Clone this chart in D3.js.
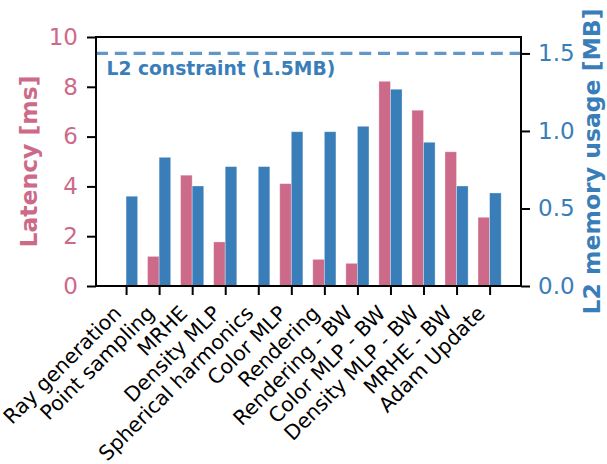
<!DOCTYPE html>
<html>
<head>
<meta charset="utf-8">
<script src="https://cdn.jsdelivr.net/npm/d3@7"></script>
<style>
  body { margin: 0; background: #fff; }
  svg text { font-family: "DejaVu Sans", sans-serif; }
</style>
</head>
<body>
<div id="chart"></div>
<script>
// categories
var categories = ["Ray generation", "Point sampling", "MRHE", "Density MLP",
  "Spherical harmonics", "Color MLP", "Rendering", "Rendering - BW",
  "Color MLP - BW", "Density MLP - BW", "MRHE - BW", "Adam Update"];

// latency in ms (left axis)
var latency = [0.03, 1.19, 4.45, 1.77, 0.02, 4.11, 1.07, 0.91, 8.22, 7.06, 5.39, 2.76];

// L2 memory usage in MB (right axis)
var memory = [0.579, 0.83, 0.645, 0.77, 0.77, 0.995, 0.995, 1.03, 1.269, 0.927, 0.645, 0.60];

// tick labels
var latencyTicks = [0, 2, 4, 6, 8, 10];
var memoryTicks = [0, 0.5, 1.0, 1.5];
var l2Limit = 1.5;

var width = 607;
var height = 464;

var pink = "#cd6a89";
var blue = "#3a7eb9";

// plot box
var boxLeft = 96, boxRight = 521, boxTop = 37, boxBottom = 286;

var svg = d3.select("#chart")
  .append("svg")
  .attr("width", width)
  .attr("height", height);

var x_Scale = d3.scaleLinear().domain([-0.91, 11.95]).range([boxLeft, boxRight]);
var yLeft = d3.scaleLinear().domain([0, 10]).range([boxBottom, boxTop]);
var yRight = d3.scaleLinear().domain([0, 1.606]).range([boxBottom, boxTop]);

var barW = x_Scale(0.35) - x_Scale(0);

// latency bars
svg.selectAll("rect.lat")
  .data(latency)
  .enter()
  .append("rect")
  .attr("class", "lat")
  .attr("x", function(d, i) { return x_Scale(i) - barW; })
  .attr("y", function(d) { return yLeft(d); })
  .attr("width", barW)
  .attr("height", function(d) { return boxBottom - yLeft(d); })
  .attr("fill", pink)
  .attr("stroke", "#fff")
  .attr("stroke-opacity", 0.4)
  .attr("stroke-width", 0.8);

// memory bars
svg.selectAll("rect.mem")
  .data(memory)
  .enter()
  .append("rect")
  .attr("class", "mem")
  .attr("x", function(d, i) { return x_Scale(i); })
  .attr("y", function(d) { return yRight(d); })
  .attr("width", barW)
  .attr("height", function(d) { return boxBottom - yRight(d); })
  .attr("fill", blue)
  .attr("stroke", "#fff")
  .attr("stroke-opacity", 0.4)
  .attr("stroke-width", 0.8);

// L2 constraint line
svg.append("line")
  .attr("x1", boxLeft)
  .attr("x2", boxRight)
  .attr("y1", yRight(l2Limit))
  .attr("y2", yRight(l2Limit))
  .attr("stroke", blue)
  .attr("stroke-opacity", 0.8)
  .attr("stroke-width", 3.3)
  .attr("stroke-dasharray", "12,6.8");

svg.append("text")
  .attr("x", 106.5)
  .attr("y", 75)
  .attr("fill", blue)
  .attr("font-size", 18.7)
  .attr("font-weight", "bold")
  .text("L2 constraint (" + l2Limit + "MB)");

// frame
svg.append("rect")
  .attr("x", boxLeft)
  .attr("y", boxTop)
  .attr("width", boxRight - boxLeft)
  .attr("height", boxBottom - boxTop)
  .attr("fill", "none")
  .attr("stroke", "#000")
  .attr("stroke-width", 2);

// x axis
var x_Axis = d3.axisBottom(x_Scale)
  .tickValues(d3.range(categories.length))
  .tickSize(9)
  .tickFormat("");
var gx = svg.append("g")
  .attr("transform", "translate(0," + boxBottom + ")")
  .call(x_Axis);
gx.select(".domain").remove();
gx.selectAll(".tick line").attr("stroke", "#000").attr("stroke-width", 2);

svg.append("g")
  .selectAll("text")
  .data(categories)
  .enter()
  .append("text")
  .attr("transform", function(d, i) {
    return "translate(" + (x_Scale(i) - 3.5) + ",314.5) rotate(-45)";
  })
  .attr("text-anchor", "end")
  .attr("font-size", 20.5)
  .attr("fill", "#000")
  .text(function(d) { return d; });

// left axis
var y_Axis = d3.axisLeft(yLeft).tickValues(latencyTicks).tickSize(9).tickPadding(9);
var gl = svg.append("g")
  .attr("transform", "translate(" + boxLeft + ",0)")
  .call(y_Axis);
gl.select(".domain").remove();
gl.selectAll(".tick line").attr("stroke", "#000").attr("stroke-width", 2);
gl.selectAll(".tick text")
  .attr("font-size", 23)
  .attr("font-family", "DejaVu Sans")
  .attr("fill", pink);

// right axis
var y2_Axis = d3.axisRight(yRight).tickValues(memoryTicks).tickSize(9).tickPadding(8)
  .tickFormat(d3.format(".1f"));
var gr = svg.append("g")
  .attr("transform", "translate(" + boxRight + ",0)")
  .call(y2_Axis);
gr.select(".domain").remove();
gr.selectAll(".tick line").attr("stroke", "#000").attr("stroke-width", 2);
gr.selectAll(".tick text")
  .attr("font-size", 23)
  .attr("font-family", "DejaVu Sans")
  .attr("fill", blue);

// axis titles
svg.append("text")
  .attr("transform", "translate(37," + ((boxTop + boxBottom) / 2) + ") rotate(-90)")
  .attr("text-anchor", "middle")
  .attr("font-size", 23.5)
  .attr("font-weight", "bold")
  .attr("fill", pink)
  .text("Latency [ms]");

svg.append("text")
  .attr("transform", "translate(600," + ((boxTop + boxBottom) / 2) + ") rotate(-90)")
  .attr("text-anchor", "middle")
  .attr("font-size", 23.5)
  .attr("font-weight", "bold")
  .attr("fill", blue)
  .text("L2 memory usage [MB]");
</script>
</body>
</html>
